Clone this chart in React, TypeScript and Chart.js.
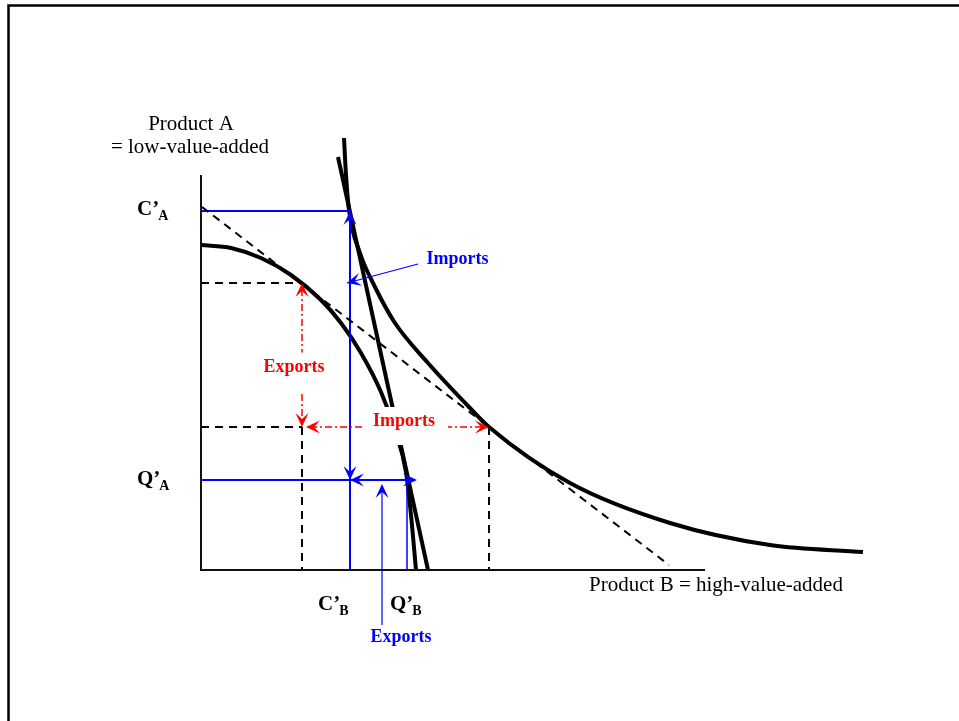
import React, { useEffect, useRef } from "react";
import { Chart, registerables } from "chart.js";

Chart.register(...registerables);

// ---- Data (x = quantity of product B, y = quantity of product A) ----
const axisTopA = 39.5;
const axisEndB = 50.4;

// production possibility frontier
const ppfB = [0, 3, 6, 9, 12, 14, 16, 18, 19.5, 20.5, 21.0, 21.5];
const ppfA = [32.5, 32.2, 31.2, 29.5, 27.0, 24.7, 21.7, 17.8, 13.7, 9.8, 5.5, 0];

// indifference curve
const icB = [14.3, 14.5, 14.8, 15.9, 17.4, 19.4, 22.7, 26.9, 28.8, 36.9, 46.9, 56.9, 66.2];
const icA = [43.2, 39.5, 36.0, 31.7, 28.3, 24.7, 20.7, 16.2, 14.3, 8.7, 4.7, 2.5, 1.8];

// flat (dashed) price line
const price1B = [0.1, 46.8];
const price1A = [36.3, 0.5];
// steep price line
const price2B = [13.7, 22.7];
const price2A = [41.3, 0];

// case 1: production / consumption
const prod1 = [10.1, 28.7];
const cons1 = [28.8, 14.3];
// case 2: production Q' / consumption C'
const prod2 = [20.6, 9.0];
const cons2 = [14.9, 35.9];
const exportTipB = 21.6;

// label pointers
const importsPtrB = [21.7, 14.6];
const importsPtrA = [30.6, 28.7];
const exportsPtrB = 18.1;
const exportsPtrA = [-5.5, 8.6];

const pts = (xs: number[], ys: number[]) => xs.map((x, i) => ({ x, y: ys[i] }));

const BLUE = "#0000ff";
const RED = "#ff0000";
const BLACK = "#000000";

function ds(data: any[], color: string, width: number, dash: number[] = [], curve = false) {
  return {
    data,
    borderColor: color,
    backgroundColor: color,
    borderWidth: width,
    borderDash: dash,
    showLine: true,
    pointRadius: 0,
    pointHoverRadius: 0,
    tension: 0,
    cubicInterpolationMode: curve ? "monotone" : "default",
    fill: false,
    clip: false,
  };
}

type Lbl = {
  text: string;
  x: number;
  y: number;
  color: string;
  font: string;
  align?: CanvasTextAlign;
  box?: [number, number, number, number]; // dx, dy, w, h in px relative to text center
};

const SERIF = '"Liberation Serif", "Times New Roman", serif';

const labels: Lbl[] = [
  { text: "Product A", x: -1.0, y: 44.6, color: BLACK, font: `21px ${SERIF}` },
  { text: "= low-value-added", x: -1.1, y: 42.3, color: BLACK, font: `21px ${SERIF}` },
  { text: "Product B = high-value-added", x: 51.5, y: -1.5, color: BLACK, font: `21px ${SERIF}` },
  { text: "Imports", x: 25.65, y: 31.1, color: BLUE, font: `bold 18px ${SERIF}` },
  { text: "Exports", x: 9.3, y: 20.3, color: RED, font: `bold 18px ${SERIF}`, box: [0, 5, 72, 39] },
  { text: "Imports", x: 20.3, y: 14.9, color: RED, font: `bold 18px ${SERIF}`, box: [1, 5, 86, 38] },
  { text: "Exports", x: 20.0, y: -6.7, color: BLUE, font: `bold 18px ${SERIF}` },
];

const markLabels = [
  { main: "C’", sub: "A", x: -6.4, y: 35.5 },
  { main: "Q’", sub: "A", x: -6.4, y: 8.5 },
  { main: "C’", sub: "B", x: 11.7, y: -4.0 },
  { main: "Q’", sub: "B", x: 18.9, y: -4.0 },
];

// arrowheads: tip and a point behind it (data coords)
const arrows = [
  { tip: [cons2[0], cons2[1]], from: [cons2[0], cons2[1] - 5], color: BLUE },
  { tip: [cons2[0], prod2[1]], from: [cons2[0], prod2[1] + 5], color: BLUE },
  { tip: [cons2[0], prod2[1]], from: [cons2[0] + 5, prod2[1]], color: BLUE },
  { tip: [exportTipB, prod2[1]], from: [exportTipB - 5, prod2[1]], color: BLUE },
  { tip: [exportsPtrB, exportsPtrA[1]], from: [exportsPtrB, exportsPtrA[0]], color: BLUE },
  { tip: [importsPtrB[1], importsPtrA[1]], from: [importsPtrB[0], importsPtrA[0]], color: BLUE },
  { tip: [prod1[0], prod1[1]], from: [prod1[0], prod1[1] - 5], color: RED },
  { tip: [prod1[0], cons1[1]], from: [prod1[0], cons1[1] + 5], color: RED },
  { tip: [prod1[0] + 0.4, cons1[1]], from: [prod1[0] + 5, cons1[1]], color: RED },
  { tip: [cons1[0], cons1[1]], from: [cons1[0] - 5, cons1[1]], color: RED },
];

function drawArrow(ctx: CanvasRenderingContext2D, tx: number, ty: number, fx: number, fy: number, color: string) {
  const a = Math.atan2(ty - fy, tx - fx);
  const L = 14, W = 6.5, N = 8;
  ctx.save();
  ctx.translate(tx, ty);
  ctx.rotate(a);
  ctx.beginPath();
  ctx.moveTo(0, 0);
  ctx.lineTo(-L, -W);
  ctx.lineTo(-N, 0);
  ctx.lineTo(-L, W);
  ctx.closePath();
  ctx.fillStyle = color;
  ctx.fill();
  ctx.restore();
}

const overlay = {
  id: "overlay",
  beforeDraw(chart: any) {
    const ctx: CanvasRenderingContext2D = chart.ctx;
    ctx.save();
    ctx.fillStyle = "#fff";
    ctx.fillRect(0, 0, chart.width, chart.height);
    ctx.strokeStyle = "#000";
    ctx.lineWidth = 2.5;
    ctx.beginPath();
    ctx.moveTo(8.5, chart.height);
    ctx.lineTo(8.5, 5.5);
    ctx.lineTo(chart.width, 5.5);
    ctx.stroke();
    ctx.restore();
  },
  afterDatasetsDraw(chart: any) {
    const ctx: CanvasRenderingContext2D = chart.ctx;
    const xs = chart.scales.x;
    const ys = chart.scales.y;
    const px = (v: number) => xs.getPixelForValue(v);
    const py = (v: number) => ys.getPixelForValue(v);
    ctx.save();
    // white boxes behind some labels
    for (const l of labels) {
      if (!l.box) continue;
      const cx = px(l.x) + l.box[0];
      const cy = py(l.y) + l.box[1];
      ctx.fillStyle = "#fff";
      ctx.fillRect(cx - l.box[2] / 2, cy - l.box[3] / 2, l.box[2], l.box[3]);
    }
    ctx.textBaseline = "middle";
    for (const l of labels) {
      ctx.font = l.font;
      ctx.fillStyle = l.color;
      ctx.textAlign = l.align || "center";
      ctx.fillText(l.text, px(l.x), py(l.y));
    }
    // C'A style labels
    ctx.textBaseline = "alphabetic";
    ctx.textAlign = "left";
    for (const m of markLabels) {
      const x0 = px(m.x);
      const y0 = py(m.y);
      ctx.fillStyle = BLACK;
      ctx.font = `bold 21px ${SERIF}`;
      ctx.fillText(m.main, x0, y0);
      const w = ctx.measureText(m.main).width;
      ctx.font = `bold 14px ${SERIF}`;
      ctx.fillText(m.sub, x0 + w - 1, y0 + 5);
    }
    for (const a of arrows) {
      drawArrow(ctx, px(a.tip[0]), py(a.tip[1]), px(a.from[0]), py(a.from[1]), a.color);
    }
    ctx.restore();
  },
};

export default function App() {
  const ref = useRef<HTMLCanvasElement | null>(null);
  useEffect(() => {
    if (!ref.current) return;
    const dash = [8, 6];
    const dashDot = [7, 3, 2, 3];
    const chart = new Chart(ref.current, {
      type: "scatter",
      data: {
        datasets: [
          ds([{ x: 0, y: axisTopA }, { x: 0, y: 0 }, { x: axisEndB, y: 0 }], "#111", 2),
          ds(pts(price1B, price1A), BLACK, 2, dash),
          ds([{ x: 0, y: prod1[1] }, { x: prod1[0], y: prod1[1] }], BLACK, 2, dash),
          ds([{ x: 0, y: cons1[1] }, { x: prod1[0], y: cons1[1] }], BLACK, 2, dash),
          ds([{ x: prod1[0], y: cons1[1] }, { x: prod1[0], y: 0 }], BLACK, 2, dash),
          ds([{ x: cons1[0], y: cons1[1] }, { x: cons1[0], y: 0 }], BLACK, 2, dash),
          ds([{ x: prod1[0], y: prod1[1] - 0.6 }, { x: prod1[0], y: cons1[1] + 0.6 }], RED, 1.5, dashDot),
          ds([{ x: prod1[0] + 0.8, y: cons1[1] }, { x: cons1[0] - 0.6, y: cons1[1] }], RED, 1.5, dashDot),
          ds([{ x: 0, y: cons2[1] }, { x: cons2[0], y: cons2[1] }, { x: cons2[0], y: 0 }], BLUE, 2),
          ds([{ x: 0, y: prod2[1] }, { x: exportTipB - 0.6, y: prod2[1] }], BLUE, 2),
          ds([{ x: prod2[0], y: prod2[1] }, { x: prod2[0], y: 0 }], BLUE, 1.5),
          ds([{ x: exportsPtrB, y: exportsPtrA[0] }, { x: exportsPtrB, y: exportsPtrA[1] - 0.6 }], BLUE, 1.2),
          ds(pts(importsPtrB, importsPtrA), BLUE, 1.2),
          ds(pts(ppfB, ppfA), BLACK, 4, [], true),
          ds(pts(icB, icA), BLACK, 4, [], true),
          ds(pts(price2B, price2A), BLACK, 4),
        ] as any,
      },
      options: {
        animation: false,
        responsive: false,
        devicePixelRatio: 1,
        events: [],
        layout: { padding: 0 },
        plugins: { legend: { display: false }, tooltip: { enabled: false } },
        scales: {
          x: { type: "linear", min: -20.1, max: 75.8, display: false },
          y: { type: "linear", min: -15.1, max: 57.0, display: false },
        },
      },
      plugins: [overlay],
    });
    return () => chart.destroy();
  }, []);
  return (
    <div style={{ position: "absolute", left: 0, top: 0, width: 959, height: 721 }}>
      <canvas ref={ref} width={959} height={721} style={{ display: "block" }} />
    </div>
  );
}
